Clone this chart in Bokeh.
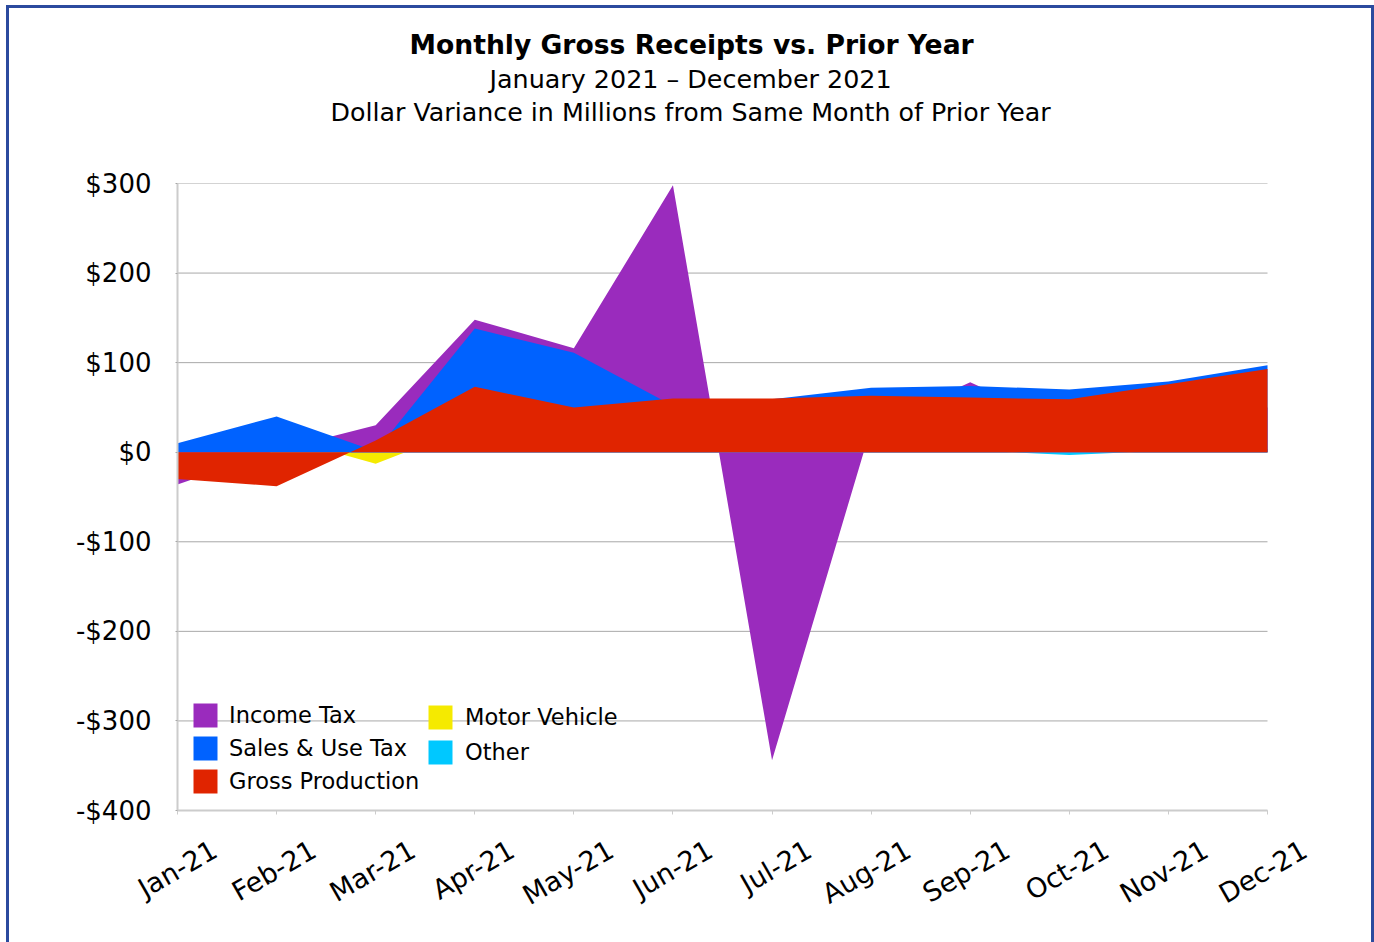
import math
from bokeh.plotting import figure
from bokeh.models import (ColumnDataSource, Range1d, FixedTicker, Title, LinearAxis,
                          Legend, LegendItem)
from bokeh.embed import file_html
from bokeh.resources import INLINE

# ---- data (millions of dollars, variance vs same month of prior year) ----
months = ["Jan-21", "Feb-21", "Mar-21", "Apr-21", "May-21", "Jun-21",
          "Jul-21", "Aug-21", "Sep-21", "Oct-21", "Nov-21", "Dec-21"]
income_tax = [-36, 2, 30, 148, 116, 298, -344, 28, 78, 28, 40, 50]
sales_use_tax = [10, 40, 1, 138, 111, 52, 59, 72, 74, 70, 79, 97]
gross_production = [-30, -38, 13, 73, 50, 60, 60, 63, 61, 59, 76, 93]
motor_vehicle = [3, 18, -13, 30, 10, 5, 5, 5, 3, 2, 3, 4]
other = [2, 3, 2, 4, 3, 2, 3, 2, 2, -3, 2, 3]

y_ticks = [-400, -300, -200, -100, 0, 100, 200, 300]
y_tick_labels = ["-$400", "-$300", "-$200", "-$100", "$0", "$100", "$200", "$300"]

title_lines = ["Monthly Gross Receipts vs. Prior Year",
               "January 2021 \u2013 December 2021",
               "Dollar Variance in Millions from Same Month of Prior Year"]

FONT = "DejaVu Sans"
BORDER = "#2B4A9E"
colors = {"Income Tax": "#9A2BBD", "Sales & Use Tax": "#0062FF",
          "Motor Vehicle": "#F5EA00", "Other": "#00C8FF",
          "Gross Production": "#E02400"}

x = list(range(len(months)))
n_last = x[-1]
src = ColumnDataSource(dict(x=x, income=income_tax, sales=sales_use_tax,
                            gross=gross_production, motor=motor_vehicle,
                            other=other, zero=[0] * len(x)))

# frame is a little wider than the data so the last rotated label fits
frame_w = 1130
x_end = n_last * frame_w / 1090.0

p = figure(width=1362, height=934, output_backend="svg", toolbar_location=None,
           title=None,
           x_range=Range1d(0, x_end), y_range=Range1d(-400, 300),
           min_border_left=168, min_border_right=1362 - 168 - frame_w,
           min_border_top=175, min_border_bottom=132)
p.margin = (8, 0, 0, 9)
p.styles = {"box-shadow": (f"-3px 0 0 0 {BORDER}, 3px 0 0 0 {BORDER}, 0 -3px 0 0 {BORDER}, "
                           f"-3px -3px 0 0 {BORDER}, 3px -3px 0 0 {BORDER}")}
p.outline_line_color = None
p.background_fill_color = "white"
p.border_fill_color = "white"

# horizontal gridlines spanning Jan..Dec only
p.xgrid.grid_line_color = None
p.ygrid.grid_line_color = None
p.segment(x0=[0] * len(y_ticks), x1=[n_last] * len(y_ticks), y0=y_ticks, y1=y_ticks,
          line_color="#A8A8A8", line_width=1)

# areas (drawn from zero, overlapping; later ones in front)
r_motor = p.varea(x="x", y1="zero", y2="motor", source=src, fill_color=colors["Motor Vehicle"])
r_other = p.varea(x="x", y1="zero", y2="other", source=src, fill_color=colors["Other"])
r_income = p.varea(x="x", y1="zero", y2="income", source=src, fill_color=colors["Income Tax"])
r_sales = p.varea(x="x", y1="zero", y2="sales", source=src, fill_color=colors["Sales & Use Tax"])
r_gross = p.varea(x="x", y1="zero", y2="gross", source=src, fill_color=colors["Gross Production"])

# y axis
p.yaxis.ticker = FixedTicker(ticks=y_ticks)
p.yaxis.major_label_overrides = {t: l for t, l in zip(y_ticks, y_tick_labels)}
p.yaxis.major_label_text_font = FONT
p.yaxis.major_label_text_font_size = "26px"
p.yaxis.major_label_text_color = "black"
p.yaxis.major_label_standoff = 24
p.yaxis.axis_line_color = "#CCCCCC"
p.yaxis.axis_line_width = 2
p.yaxis.major_tick_out = 2
p.yaxis.major_tick_in = 0
p.yaxis.major_tick_line_color = "#A8A8A8"
p.yaxis.minor_tick_line_color = None

# main x axis: line and tick marks only, Jan..Dec
p.xaxis.ticker = FixedTicker(ticks=x)
p.xaxis.bounds = (0, n_last)
p.xaxis.major_label_overrides = {i: "" for i in x}
p.xaxis.major_label_text_font_size = "1px"
p.xaxis.major_label_standoff = 0
p.xaxis.axis_line_color = "#CCCCCC"
p.xaxis.axis_line_width = 2
p.xaxis.major_tick_out = 4
p.xaxis.major_tick_in = 0
p.xaxis.major_tick_line_color = "#CCCCCC"
p.xaxis.minor_tick_line_color = None

# label axis: rotated month labels, shifted so each label is centred under its tick
shift = 0.375
p.extra_x_ranges = {"lab": Range1d(-shift, x_end - shift)}
lab_axis = LinearAxis(x_range_name="lab", ticker=FixedTicker(ticks=x),
                      major_label_overrides={i: m for i, m in zip(x, months)},
                      major_label_orientation=math.radians(30),
                      major_label_text_font=FONT, major_label_text_font_size="27px",
                      major_label_text_color="black", major_label_standoff=27,
                      axis_line_color=None, major_tick_line_color=None,
                      minor_tick_line_color=None)
p.add_layout(lab_axis, "below")

# titles (added bottom-up; first a spacer next to the frame)
p.add_layout(Title(text=" ", text_font_size="1px", standoff=53), "above")
for txt, sz, st, off in [(title_lines[2], "25.3px", "normal", 153),
                         (title_lines[1], "25.4px", "normal", 312),
                         (title_lines[0], "26.6px", "bold", 232)]:
    p.add_layout(Title(text=txt, align="left", offset=off, standoff=2,
                       text_font=FONT, text_font_size=sz, text_font_style=st,
                       text_color="black"), "above")

# legends
def make_legend(items, loc, spacing, standoff):
    return Legend(items=items, location=loc, orientation="vertical",
                  glyph_width=30, glyph_height=30, label_height=24, spacing=spacing,
                  label_standoff=standoff, padding=0, margin=0,
                  label_text_font=FONT, label_text_font_size="22.5px",
                  label_text_color="black",
                  border_line_color=None, background_fill_alpha=0)

leg1 = make_legend([LegendItem(label="Income Tax", renderers=[r_income]),
                    LegendItem(label="Sales & Use Tax", renderers=[r_sales]),
                    LegendItem(label="Gross Production", renderers=[r_gross])],
                   (13, 14), 3, 9)
leg2 = make_legend([LegendItem(label="Motor Vehicle", renderers=[r_motor]),
                    LegendItem(label="Other", renderers=[r_other])],
                   (248, 43), 5, 10)
p.add_layout(leg1, "center")
p.add_layout(leg2, "center")

open("out.html", "w").write(file_html(p, INLINE))
